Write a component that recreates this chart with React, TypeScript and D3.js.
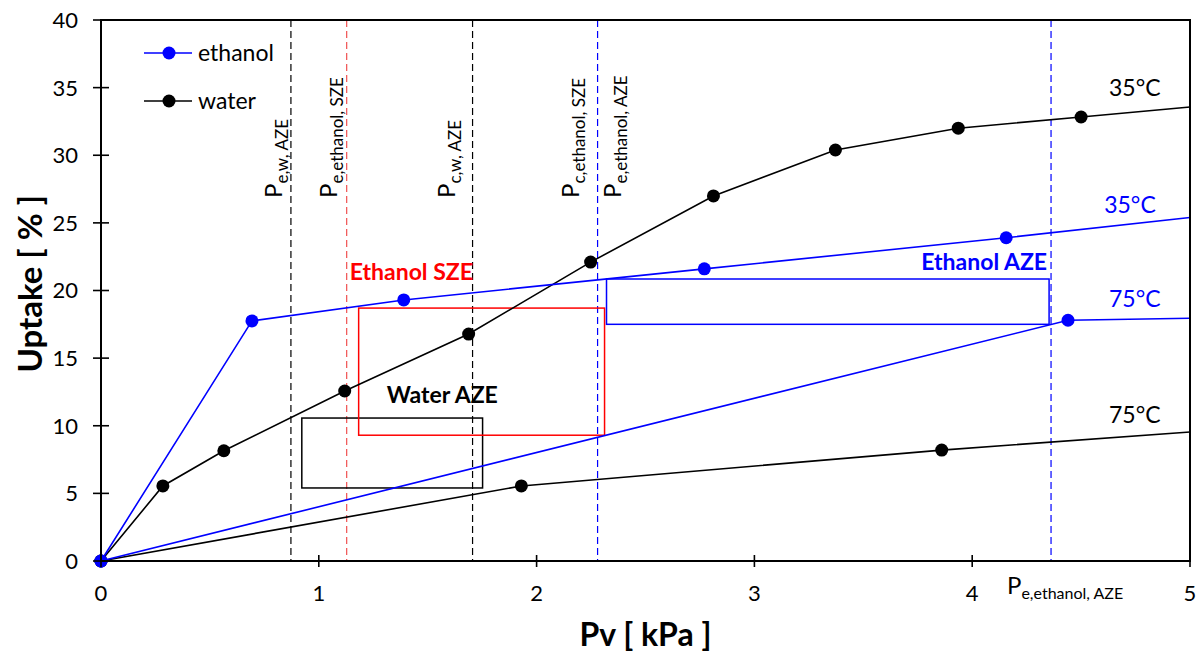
import * as d3 from "d3";

const W = 1196;
const H = 655;
const MARGIN = { top: 20, right: 6, bottom: 94, left: 101 };

const xTicks = [0, 1, 2, 3, 4, 5];
const yTicks = [0, 5, 10, 15, 20, 25, 30, 35, 40];

// isotherms: measured points (marked) + tail to the axis edge (no marker)
const water35 = [
  [0, 0], [0.284, 5.55], [0.564, 8.15], [1.119, 12.57], [1.688, 16.78],
  [2.248, 22.1], [2.812, 26.99], [3.372, 30.39], [3.936, 32.0], [4.5, 32.83],
];
const water35Tail = [5, 33.57];
const water75 = [[0, 0], [1.93, 5.55], [3.86, 8.2]];
const water75Tail = [5, 9.54];
const ethanol35 = [[0, 0], [0.693, 17.75], [1.39, 19.3], [2.77, 21.6], [4.156, 23.9]];
const ethanol35Tail = [5, 25.4];
const ethanol75 = [[0, 0], [4.44, 17.8]];
const ethanol75Tail = [5, 17.95];

// dashed pressure markers
const vLineX = [0.872, 1.128, 1.706, 2.28, 4.362];
const vLineColors = ["#000", "#f05050", "#000", "#0000ff", "#0000ff"];
const vLabelX = [0.83, 1.082, 1.624, 2.196, 2.388];
const vLabels = ["e,w, AZE", "e,ethanol, SZE", "c,w, AZE", "c,ethanol, SZE", "e,ethanol, AZE"];

// zones
const zones = [
  { name: "Water AZE", x0: 0.922, x1: 1.752, y0: 5.4, y1: 10.57, color: "#000", tx: 1.312, ty: 11.68 },
  { name: "Ethanol SZE", x0: 1.183, x1: 2.312, y0: 9.3, y1: 18.7, color: "#ff0000", tx: 1.142, ty: 20.78 },
  { name: "Ethanol AZE", x0: 2.321, x1: 4.353, y0: 17.5, y1: 20.85, color: "#0000ff", tx: 3.766, ty: 21.52 },
];

const tempLabels = [
  { text: "35°C", x: 4.628, y: 34.38, color: "#000" },
  { text: "35°C", x: 4.606, y: 25.73, color: "#0000ff" },
  { text: "75°C", x: 4.628, y: 18.78, color: "#0000ff" },
  { text: "75°C", x: 4.628, y: 10.2, color: "#000" },
];

const FONT = "Lato, 'Open Sans', sans-serif";

export default function App() {
  const bw = W - MARGIN.left - MARGIN.right;
  const x = d3.scaleLinear().domain([0, 5]).range([MARGIN.left, MARGIN.left + 1089]);
  const y = d3.scaleLinear().domain([0, 40]).range([561, MARGIN.top]);
  const line = d3.line<number[]>().x((d) => x(d[0])).y((d) => y(d[1]));

  const series = [
    { pts: water35, tail: water35Tail, color: "#000" },
    { pts: water75, tail: water75Tail, color: "#000" },
    { pts: ethanol35, tail: ethanol35Tail, color: "#0000ff" },
    { pts: ethanol75, tail: ethanol75Tail, color: "#0000ff" },
  ];

  return (
    <svg width={W} height={H} style={{ position: "absolute", left: 0, top: 0, background: "#fff" }} fontFamily={FONT}>
      {/* dashed lines */}
      {vLineX.map((v, i) => (
        <line key={i} x1={x(v)} x2={x(v)} y1={y(40)} y2={y(0)} stroke={vLineColors[i]} strokeWidth={1.2} strokeDasharray="7,4" />
      ))}
      {vLabels.map((lab, i) => (
        <text key={i} transform={`translate(${x(vLabelX[i])},198) rotate(-90)`} fontSize={24} fill="#000">
          P<tspan fontSize={17} dy={6}>{lab}</tspan>
        </text>
      ))}

      {/* zones */}
      {zones.map((z, i) => (
        <g key={i}>
          <rect x={x(z.x0)} y={y(z.y1)} width={x(z.x1) - x(z.x0)} height={y(z.y0) - y(z.y1)} fill="none" stroke={z.color} strokeWidth={1.5} />
          <text x={x(z.tx)} y={y(z.ty)} fill={z.color} fontSize={23} fontWeight="bold">{z.name}</text>
        </g>
      ))}

      {/* series */}
      {series.map((s, i) => (
        <g key={i}>
          <path d={line([...s.pts, s.tail]) ?? ""} fill="none" stroke={s.color} strokeWidth={1.6} />
          {s.pts.map((p, j) => (
            <circle key={j} cx={x(p[0])} cy={y(p[1])} r={6.5} fill={s.color} />
          ))}
        </g>
      ))}

      {tempLabels.map((t, i) => (
        <text key={i} x={x(t.x)} y={y(t.y)} fill={t.color} fontSize={23}>{t.text}</text>
      ))}

      {/* frame */}
      <rect x={MARGIN.left} y={MARGIN.top} width={x(5) - MARGIN.left} height={y(0) - MARGIN.top} fill="none" stroke="#000" strokeWidth={2} />

      {/* y axis */}
      {yTicks.map((t) => (
        <g key={t}>
          <line x1={MARGIN.left - 8} x2={MARGIN.left + 8} y1={y(t)} y2={y(t)} stroke="#000" strokeWidth={1.6} />
          <text x={MARGIN.left - 23} y={y(t)} dy="0.36em" textAnchor="end" fontSize={22}>{t}</text>
        </g>
      ))}
      {/* x axis */}
      {xTicks.map((t) => (
        <g key={t}>
          <line x1={x(t)} x2={x(t)} y1={y(0) - 6} y2={y(0) + 6} stroke="#000" strokeWidth={1.6} />
          <text x={x(t)} y={y(0) + 40} textAnchor="middle" fontSize={22}>{t}</text>
        </g>
      ))}

      <text x={1007} y={y(0) + 33} fontSize={24}>
        P<tspan fontSize={16} dy={5}>e,ethanol, AZE</tspan>
      </text>

      {/* legend */}
      <line x1={144} x2={192} y1={53} y2={53} stroke="#0000ff" strokeWidth={1.6} />
      <circle cx={169} cy={53} r={6.5} fill="#0000ff" />
      <text x={198} y={53} dy="0.36em" fontSize={23}>ethanol</text>
      <line x1={144} x2={192} y1={101} y2={101} stroke="#000" strokeWidth={1.6} />
      <circle cx={169} cy={101} r={6.5} fill="#000" />
      <text x={198} y={101} dy="0.36em" fontSize={23}>water</text>

      {/* axis titles */}
      <text x={MARGIN.left + bw / 2} y={646} textAnchor="middle" fontSize={32} fontWeight="bold">Pv [ kPa ]</text>
      <text transform={`translate(42,${y(20.5)}) rotate(-90)`} textAnchor="middle" fontSize={33} fontWeight="bold">Uptake [ % ]</text>
    </svg>
  );
}
